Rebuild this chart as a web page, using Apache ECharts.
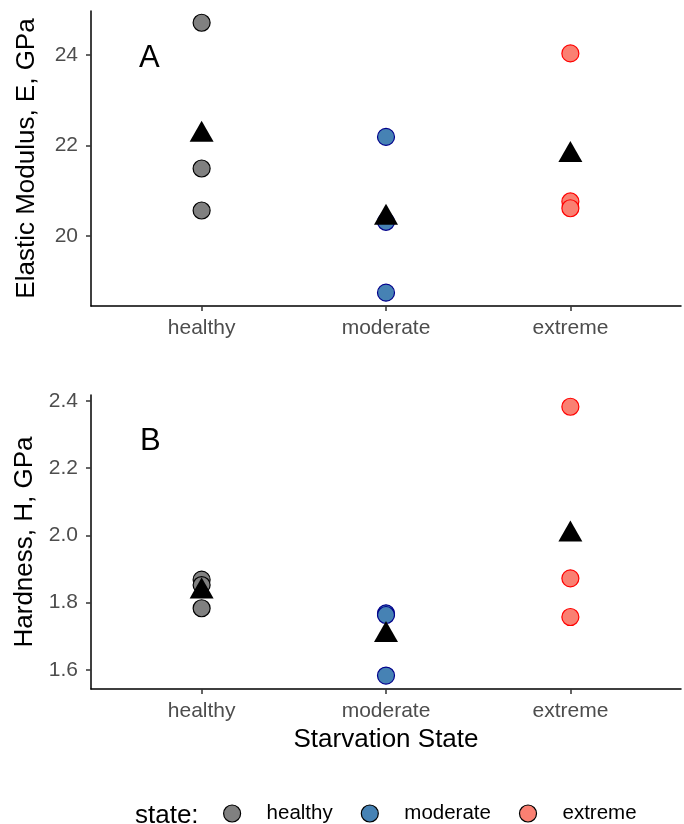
<!DOCTYPE html>
<html>
<head>
<meta charset="utf-8">
<script src="https://cdn.jsdelivr.net/npm/echarts@6/dist/echarts.min.js"></script>
<style>
html,body{margin:0;padding:0;background:#fff;}
#chart{width:684px;height:824px;}
</style>
</head>
<body>
<div id="chart"></div>
<script>
// ---- data ----
var categories = ['healthy', 'moderate', 'extreme'];

// Panel A: Elastic Modulus, E, GPa
var modulusHealthy  = [24.72, 21.49, 20.56];
var modulusModerate = [22.19, 20.31, 18.74];
var modulusExtreme  = [24.04, 20.76, 20.61];
var modulusMean     = [22.25, 20.41, 21.80];

// Panel B: Hardness, H, GPa
var hardHealthy  = [1.868, 1.852, 1.783];
var hardModerate = [1.768, 1.763, 1.583];
var hardExtreme  = [2.382, 1.872, 1.757];
var hardMean     = [1.834, 1.705, 2.004];

var modulusTicks  = [20, 22, 24];
var hardnessTicks = [1.6, 1.8, 2.0, 2.2, 2.4];

// ---- styles ----
var FONT = 'Liberation Sans, Arial, sans-serif';
var fills   = {healthy: '#808080', moderate: '#4682B4', extreme: '#FA8072'};
var strokes = {healthy: '#000000', moderate: '#00008B', extreme: '#FF0000'};

var chart = echarts.init(document.getElementById('chart'), null, {renderer: 'canvas'});

function xAxisFor(gridIndex, withName) {
  var ax = {
    type: 'value', gridIndex: gridIndex, min: 0.4, max: 3.6,
    axisLine: {show: true, onZero: false, lineStyle: {color: '#000', width: 1.5}},
    axisTick: {show: true, length: 5, lineStyle: {color: '#333', width: 1.5}, customValues: [1, 2, 3]},
    axisLabel: {
      show: true, customValues: [1, 2, 3], margin: 12,
      color: '#4D4D4D', fontSize: 21, fontFamily: FONT,
      formatter: function (v) { return categories[Math.round(v) - 1]; }
    },
    splitLine: {show: false}
  };
  if (withName) {
    ax.name = 'Starvation State';
    ax.nameLocation = 'middle';
    ax.nameGap = 38;
    ax.nameTextStyle = {color: '#000', fontSize: 26, fontFamily: FONT};
  }
  return ax;
}

function yAxisFor(gridIndex, name, min, max, ticks, digits) {
  return {
    type: 'value', gridIndex: gridIndex, min: min, max: max,
    name: name, nameLocation: 'middle', nameGap: 51,
    nameTextStyle: {color: '#000', fontSize: 26, fontFamily: FONT},
    axisLine: {show: true, onZero: false, lineStyle: {color: '#000', width: 1.5}},
    axisTick: {show: true, length: 5, lineStyle: {color: '#333', width: 1.5}, customValues: ticks},
    axisLabel: {
      show: true, customValues: ticks, margin: 13,
      color: '#4D4D4D', fontSize: 21, fontFamily: FONT,
      formatter: function (v) { return v.toFixed(digits); }
    },
    splitLine: {show: false}
  };
}

function pointSeries(name, values, catIndex, gridIndex) {
  return {
    type: 'scatter', name: name, xAxisIndex: gridIndex, yAxisIndex: gridIndex,
    symbol: 'circle', symbolSize: 17,
    itemStyle: {color: fills[name], borderColor: strokes[name], borderWidth: 1.2, opacity: 1},
    data: values.map(function (v) { return [catIndex + 1, v]; }),
    z: 2
  };
}

function meanSeries(values, gridIndex) {
  return {
    type: 'scatter', name: 'mean', xAxisIndex: gridIndex, yAxisIndex: gridIndex,
    symbol: 'triangle', symbolSize: [24, 21], symbolOffset: [0, -3],
    itemStyle: {color: '#000', opacity: 1},
    data: values.map(function (v, i) { return [i + 1, v]; }),
    z: 3
  };
}

var series = [
  pointSeries('healthy', modulusHealthy, 0, 0),
  pointSeries('moderate', modulusModerate, 1, 0),
  pointSeries('extreme', modulusExtreme, 2, 0),
  meanSeries(modulusMean, 0),
  pointSeries('healthy', hardHealthy, 0, 1),
  pointSeries('moderate', hardModerate, 1, 1),
  pointSeries('extreme', hardExtreme, 2, 1),
  meanSeries(hardMean, 1)
];

var option = {
  animation: false,
  backgroundColor: '#fff',
  grid: [
    {left: 91, top: 11, width: 590, height: 295, containLabel: false},
    {left: 91, top: 395, width: 590, height: 294, containLabel: false}
  ],
  xAxis: [xAxisFor(0, false), xAxisFor(1, true)],
  yAxis: [
    yAxisFor(0, 'Elastic Modulus, E, GPa', 18.444, 24.98, modulusTicks, 0),
    yAxisFor(1, 'Hardness, H, GPa', 1.543, 2.417, hardnessTicks, 1)
  ],
  legend: {
    show: true, orient: 'horizontal', left: 218, top: 798,
    itemWidth: 59, itemHeight: 17, itemGap: 28,
    icon: 'circle',
    textStyle: {color: '#000', fontSize: 20.5, fontFamily: FONT},
    selectedMode: false,
    data: categories.map(function (c) {
      return {name: c, itemStyle: {color: fills[c], borderColor: '#000', borderWidth: 1.2}};
    })
  },
  graphic: [
    {type: 'text', left: 135, top: 803, style: {text: 'state:', fill: '#000', font: '26px ' + FONT}},
    {type: 'text', left: 139, top: 43, style: {text: 'A', fill: '#000', font: '31px ' + FONT}},
    {type: 'text', left: 140, top: 426, style: {text: 'B', fill: '#000', font: '31px ' + FONT}}
  ],
  series: series
};

chart.setOption(option);
</script>
</body>
</html>
